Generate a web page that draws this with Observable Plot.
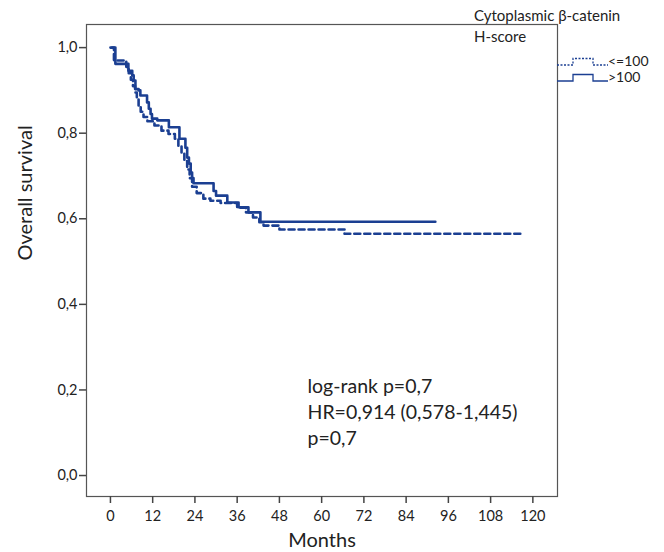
<!DOCTYPE html>
<html>
<head>
<meta charset="utf-8">
<script src="https://cdn.jsdelivr.net/npm/d3@7"></script>
<script src="https://cdn.jsdelivr.net/npm/@observablehq/plot@0.6"></script>
<style>
  html, body { margin: 0; padding: 0; background: #fff; }
  #wrap { position: relative; width: 664px; height: 552px; font-family: Lato, "Open Sans", sans-serif; color: #222; }
  #legend { position: absolute; left: 0; top: 0; }
</style>
</head>
<body>
<div id="wrap"></div>
<script>
// ---- data ----
const groupLow = "<=100";
const groupHigh = ">100";

// Cytoplasmic β-catenin H-score <=100 (dashed)
const lowMonths = [0, 1.0, 4.5, 5.2, 5.8, 6.4, 7.0, 7.5, 8.0, 8.6, 9.4, 10.5, 12.5, 14.5, 16.5, 18.3, 19.3, 20.2, 21.0, 21.8, 22.5, 23.2, 24.5, 26.4, 28.4, 31.3, 36.0, 38.5, 40.5, 42.3, 43.5, 48.0, 66.5, 117.0];
const lowSurv   = [1.0, 0.97, 0.955, 0.94, 0.925, 0.91, 0.895, 0.88, 0.865, 0.85, 0.838, 0.828, 0.818, 0.806, 0.798, 0.787, 0.77, 0.752, 0.735, 0.715, 0.695, 0.675, 0.66, 0.647, 0.642, 0.637, 0.626, 0.615, 0.603, 0.592, 0.584, 0.575, 0.565, 0.565];

// Cytoplasmic β-catenin H-score >100 (solid)
const highMonths = [0.5, 1.4, 5.1, 6.2, 6.6, 7.1, 8.0, 8.5, 10.4, 10.9, 11.4, 11.8, 13.3, 16.6, 19.6, 21.3, 21.8, 22.3, 22.8, 23.2, 23.6, 29.3, 30.0, 33.2, 36.4, 39.2, 42.6, 92.3];
const highSurv   = [1.0, 0.962, 0.946, 0.935, 0.923, 0.903, 0.90, 0.888, 0.872, 0.857, 0.845, 0.834, 0.83, 0.814, 0.787, 0.766, 0.743, 0.729, 0.708, 0.695, 0.683, 0.665, 0.654, 0.638, 0.627, 0.615, 0.593, 0.593];

const xTicks = [0, 12, 24, 36, 48, 60, 72, 84, 96, 108, 120];
const yTicks = [0, 0.2, 0.4, 0.6, 0.8, 1.0];
const statsLines = ["log-rank p=0,7", "HR=0,914 (0,578-1,445)", "p=0,7"];
const legendTitle = ["Cytoplasmic β-catenin", "H-score"];

// ---- build ----
const low = lowMonths.map((m, i) => ({month: m, surv: lowSurv[i]}));
const high = highMonths.map((m, i) => ({month: m, surv: highSurv[i]}));
const navy = "#1b3f92";
const fmt = v => d3.format(".1f")(v).replace(".", ",");

const chart = Plot.plot({
  width: 664,
  height: 552,
  marginLeft: 86,
  marginRight: 107,
  marginTop: 24,
  marginBottom: 56,
  style: {fontFamily: "Lato, 'Open Sans', sans-serif", color: "#222", background: "#fff"},
  x: {domain: [-6.8, 127.0]},
  y: {domain: [-0.049, 1.054]},
  marks: [
    Plot.frame({stroke: "#555", strokeWidth: 1.2}),
    Plot.axisX({ticks: xTicks, tickSize: 7, tickPadding: 7, fontSize: 14.5, label: null, stroke: "#444", strokeWidth: 1.5, tickFormat: d => String(d)}),
    Plot.axisY({ticks: yTicks, tickSize: 7, tickPadding: 2, fontSize: 14.5, label: null, stroke: "#444", strokeWidth: 1.5, tickFormat: fmt}),
    Plot.text(["Months"], {frameAnchor: "bottom", dy: 50, fontSize: 20, fill: "#222"}),
    Plot.text(["Overall survival"], {frameAnchor: "left", dx: -61, rotate: -90, fontSize: 20, fill: "#222"}),
    Plot.line(low, {x: "month", y: "surv", curve: "step-after", stroke: navy, strokeWidth: 2.6, strokeDasharray: "6,4"}),
    Plot.line(high, {x: "month", y: "surv", curve: "step-after", stroke: navy, strokeWidth: 2.6}),
    ...statsLines.map((t, i) => Plot.text([t], {frameAnchor: "top-left", dx: 221, dy: 355 + i * 26, textAnchor: "start", fontSize: 19.5, fill: "#222"}))
  ]
});
document.getElementById("wrap").appendChild(chart);

// ---- legend overlay ----
const svg = d3.select("#wrap").append("svg")
  .attr("id", "legend").attr("width", 664).attr("height", 100)
  .style("font-family", "Lato, 'Open Sans', sans-serif");
svg.selectAll("text.title").data(legendTitle).join("text")
  .attr("class", "title")
  .attr("x", 474).attr("y", (d, i) => 21 + i * 21)
  .attr("font-size", 15).attr("fill", "#222").text(d => d);
const items = [
  {label: groupLow, lowY: 65, highY: 58.5, dash: "2,1.5"},
  {label: groupHigh, lowY: 81, highY: 74.5, dash: null}
];
items.forEach(it => {
  const p = `M557,${it.lowY}H573V${it.highY}H593V${it.lowY}H608`;
  svg.append("path").attr("d", p).attr("fill", "none").attr("stroke", navy)
    .attr("stroke-width", 1.3).attr("stroke-dasharray", it.dash);
  svg.append("text").attr("x", 608).attr("y", it.lowY - 3).attr("dy", "0.32em")
    .attr("font-size", 14).attr("fill", "#222").text(it.label);
});
</script>
</body>
</html>
